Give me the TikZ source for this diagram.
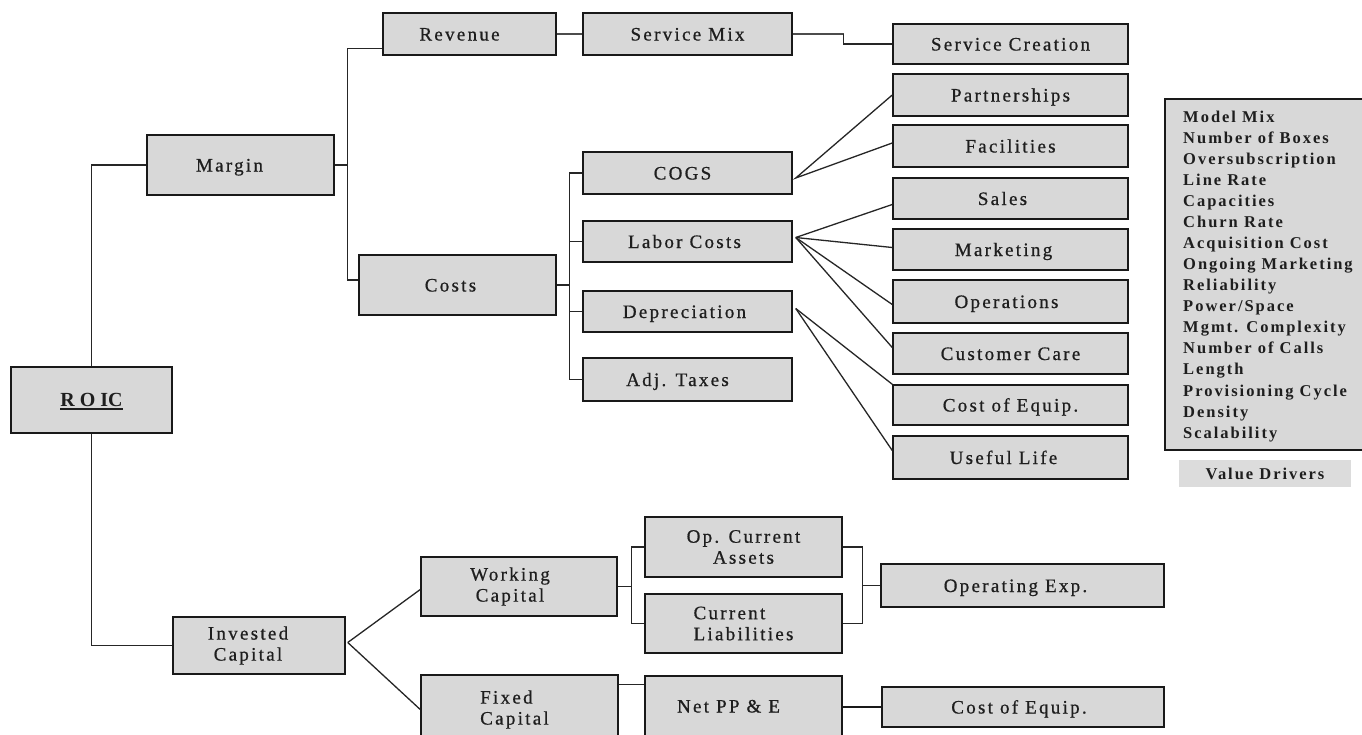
\documentclass[tikz,border=0pt]{standalone}
\usepackage{fontspec}
\setmainfont{Liberation Serif}
\newfontfamily\bxf[LetterSpace=12,FakeBold=0.7]{Liberation Serif}
\newfontfamily\vdf[LetterSpace=12]{Liberation Serif}
\usetikzlibrary{calc}
\definecolor{boxgray}{HTML}{D8D8D8}
\definecolor{inkc}{HTML}{1E1E1E}
\newcommand{\tsh}[1]{\rule{#1pt}{0pt}}
\tikzset{
  bxbase/.style={draw=black!90, line width=1.5pt, fill=boxgray, inner sep=0pt,
    text=inkc, font=\bxf\fontsize{19}{21}\selectfont},
  bx/.style={bxbase, text height=15pt, text depth=2pt},
  bxm/.style={bxbase, align=center},
  bxl/.style={bxbase, align=left},
  ln/.style={draw=black!85, line width=1.3pt},
  thk/.style={draw=black!70, line width=2.6pt},
  thkb/.style={draw=black!90, line width=2.4pt},
}
\begin{document}
\begin{tikzpicture}[x=1pt, y=-1pt]
\clip (0,0) rectangle (1362,734);
\fill[white] (0,0) rectangle (1362,734);

% ---- boxes ----
\node[bx, minimum width=161pt, minimum height=66pt, font=\rmfamily\bfseries\fontsize{20}{22}\selectfont] (roic) at (91.5,400)
  {\setbox0\hbox{R O IC}\rlap{\rule[-3.5pt]{\wd0}{2pt}}\box0};
\node[bx, minimum width=187pt, minimum height=60pt] (margin) at (240.5,165) {Margin\tsh{22}};
\node[bxm, minimum width=172pt, minimum height=57pt] (ic) at (259,645.5) {Invested\tsh{22}\\Capital\tsh{22}};
\node[bx, minimum width=173pt, minimum height=42pt] (revenue) at (469.5,34) {Revenue\tsh{20}};
\node[bx, minimum width=197pt, minimum height=60pt] (costs) at (457.5,285) {Costs\tsh{14}};
\node[bx, minimum width=209pt, minimum height=42pt] (sm) at (687.5,34) {Service Mix};
\node[bx, minimum width=209pt, minimum height=42pt] (cogs) at (687.5,173) {COGS\tsh{10}};
\node[bx, minimum width=209pt, minimum height=41pt] (labor) at (687.5,241.5) {Labor Costs\tsh{6}};
\node[bx, minimum width=209pt, minimum height=41pt] (depr) at (687.5,311.5) {Depreciation\tsh{6}};
\node[bx, minimum width=209pt, minimum height=43pt] (adj) at (687.5,379.5) {Adj. Taxes\tsh{20}};

\node[bx, minimum width=235pt, minimum height=40pt] (sc) at (1010.5,44) {Service Creation};
\node[bx, minimum width=235pt, minimum height=42pt] (part) at (1010.5,95) {Partnerships};
\node[bx, minimum width=235pt, minimum height=42pt] (fac) at (1010.5,146) {Facilities};
\node[bx, minimum width=235pt, minimum height=41pt] (sales) at (1010.5,198.5) {Sales\tsh{16}};
\node[bx, minimum width=235pt, minimum height=41pt] (mkt) at (1010.5,249.5) {Marketing\tsh{14}};
\node[bx, minimum width=235pt, minimum height=43pt] (ops) at (1010.5,301.5) {Operations\tsh{8}};
\node[bx, minimum width=235pt, minimum height=41pt] (cc) at (1010.5,353.5) {Customer Care};
\node[bx, minimum width=235pt, minimum height=40pt] (coe) at (1010.5,405) {Cost of Equip.};
\node[bx, minimum width=235pt, minimum height=43pt] (ul) at (1010.5,457.5) {Useful Life\tsh{14}};

\node[bxm, minimum width=196pt, minimum height=59pt] (wc) at (519,586.5) {Working\tsh{18}\\Capital\tsh{18}};
\node[bxl, minimum width=197pt, minimum height=69pt] (fc) at (519.5,709.5) {Fixed\\Capital\tsh{10}};
\node[bxm, minimum width=197pt, minimum height=60pt] (oca) at (743.5,547) {Op. Current\\Assets};
\node[bxl, minimum width=197pt, minimum height=59pt] (cl) at (743.5,623.5) {Current\\Liabilities};
\node[bx, minimum width=197pt, minimum height=60pt] (npe) at (743.5,706) {Net PP \& E\tsh{30}};
\node[bx, minimum width=283pt, minimum height=43pt] (opx) at (1022.5,585.5) {Operating Exp.\tsh{14}};
\node[bx, minimum width=282pt, minimum height=40pt] (coe2) at (1023,707) {Cost of Equip.\tsh{8}};

% ---- value drivers ----
\node[bxbase, minimum width=199pt, minimum height=351pt] (vd) at (1264.5,274.5) {};
\node[anchor=north west, inner sep=0pt, align=left, text=inkc,
  font=\vdf\bfseries\fontsize{16.5}{21.07}\selectfont] (vdlist) at (1183,110.5)
  {Model Mix\\Number of Boxes\\Oversubscription\\Line Rate\\Capacities\\Churn Rate\\Acquisition Cost\\Ongoing Marketing\\Reliability\\Power/Space\\Mgmt. Complexity\\Number of Calls\\Length\\Provisioning Cycle\\Density\\Scalability};
\node[fill=boxgray!90, inner sep=0pt, minimum width=172pt, minimum height=27pt, text=inkc,
  text height=12pt, text depth=1pt,
  font=\vdf\bfseries\fontsize{16.5}{18}\selectfont] (vdlab) at (1265,473.5) {Value Drivers};

% ---- connectors ----
\draw[ln] (roic.north) |- (margin.west);
\draw[ln] (roic.south) |- (ic.west);
\draw[ln] (margin.east) -- ++(13,0);
\draw[ln] ($(revenue.south west)+(0,-7)$) -| ($(margin.east)+(13,0)$) |- ($(costs.west)+(0,-5)$);

\draw[ln] (costs.east) -- ++(13,0);
\draw[ln] (cogs.west) -| ($(costs.east)+(13,0)$) |- (adj.west);
\draw[ln] ($(costs.east)+(13,0)$) |- (labor.west);
\draw[ln] ($(costs.east)+(13,0)$) |- (depr.west);

\draw[thk] (revenue.east) -- (sm.west);
\draw[thk] (sm.east) -- ++(51,0) coordinate (smj);
\draw[ln] (smj) |- (sc.west);

\draw[ln] (part.west) -- ($(cogs.east)+(3,5)$) -- ($(fac.west)+(0,-3)$);
\draw[ln] ($(labor.east)+(3,-4)$) -- ($(sales.west)+(0,6)$);
\draw[ln] ($(labor.east)+(3,-4)$) -- ($(mkt.west)+(0,-2)$);
\draw[ln] ($(labor.east)+(3,-4)$) -- ($(ops.west)+(0,3)$);
\draw[ln] ($(labor.east)+(3,-4)$) -- ($(cc.west)+(0,-6)$);
\draw[ln] ($(depr.east)+(3,-3)$) -- (coe.north west);
\draw[ln] ($(depr.east)+(3,-3)$) -- ($(ul.west)+(0,-7)$);

\draw[ln] ($(ic.east)+(2,-3)$) -- ($(wc.west)+(0,3)$);
\draw[ln] ($(ic.east)+(2,-3)$) -- (fc.west);

\draw[ln] (wc.east) -- ++(14,0) coordinate (wj);
\draw[ln] (oca.west) -| (wj) |- (cl.west);
\draw[ln] (oca.east) -- ++(20,0) coordinate (oj) -- (oj |- cl.east) -- (cl.east);
\draw[ln] (oj |- opx.west) -- (opx.west);

\draw[ln] ($(fc.north east)+(0,10)$) -- ($(npe.north west)+(0,9)$);
\draw[thkb] (npe.east |- coe2.west) -- (coe2.west);
\end{tikzpicture}
\end{document}
